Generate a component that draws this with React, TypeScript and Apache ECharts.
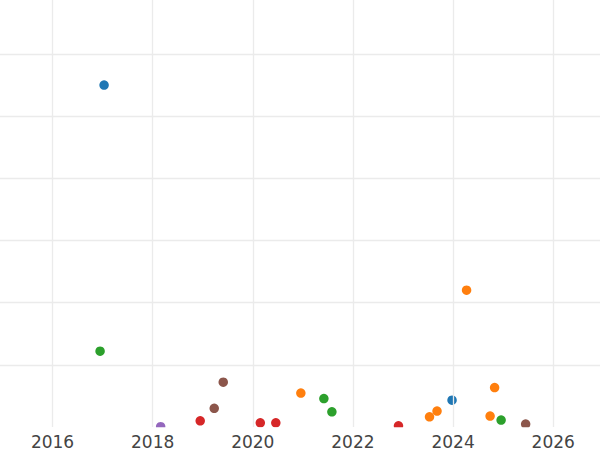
import React, { useEffect, useRef } from "react";
import * as echarts from "echarts";

const xTicks = [2016, 2018, 2020, 2022, 2024, 2026];
const yGridTicks = [1, 2, 3, 4, 5, 6];

const blueX = [2017.03, 2023.98];
const blueY = [5.5, 0.432];
const orangeX = [2020.96, 2024.27, 2023.53, 2023.68, 2024.83, 2024.74];
const orangeY = [0.545, 2.2, 0.164, 0.256, 0.635, 0.175];
const greenX = [2016.95, 2021.42, 2021.58, 2024.96];
const greenY = [1.22, 0.458, 0.244, 0.111];
const redX = [2018.95, 2020.15, 2020.46, 2022.91];
const redY = [0.1, 0.068, 0.068, 0.02];
const purpleX = [2018.16];
const purpleY = [0.005];
const brownX = [2019.41, 2019.23, 2025.45];
const brownY = [0.72, 0.3, 0.047];

const seriesDefs = [
  { name: "A", xs: blueX, ys: blueY, color: "#1f77b4" },
  { name: "B", xs: orangeX, ys: orangeY, color: "#ff7f0e" },
  { name: "C", xs: greenX, ys: greenY, color: "#2ca02c" },
  { name: "D", xs: redX, ys: redY, color: "#d62728" },
  { name: "E", xs: purpleX, ys: purpleY, color: "#9467bd" },
  { name: "F", xs: brownX, ys: brownY, color: "#8c564b" },
];

const PLOT_BOTTOM = 22.8;

export default function App() {
  const ref = useRef<HTMLDivElement>(null);
  useEffect(() => {
    if (!ref.current) return;
    const chart = echarts.init(ref.current, null, { renderer: "svg" });
    chart.setOption({
      animation: false,
      backgroundColor: "#ffffff",
      grid: { left: 0, right: 0, top: 0, bottom: PLOT_BOTTOM, containLabel: false },
      graphic: [
        {
          type: "rect",
          left: 0,
          bottom: 0,
          z: 5,
          shape: { width: 600, height: PLOT_BOTTOM },
          style: { fill: "#ffffff" },
        },
      ],
      xAxis: {
        type: "value",
        z: 10,
        min: 2014.951,
        max: 2026.935,
        axisLine: { show: false },
        axisTick: { show: false, customValues: xTicks },
        axisLabel: {
          customValues: xTicks,
          formatter: (v: number) => String(v),
          fontFamily: "DejaVu Sans",
          fontSize: 17,
          color: "#444444",
          margin: 6,
        },
        splitLine: { show: true, lineStyle: { color: "#ebebeb", width: 1.3 } },
      },
      yAxis: {
        type: "value",
        min: 0,
        max: 6.868,
        axisLine: { show: false },
        axisTick: { show: false, customValues: yGridTicks },
        axisLabel: { show: false, customValues: yGridTicks },
        splitLine: { show: true, lineStyle: { color: "#ebebeb", width: 1.3 } },
      },
      series: seriesDefs.map((s) => ({
        name: s.name,
        type: "scatter",
        symbol: "circle",
        symbolSize: 9.5,
        clip: false,
        itemStyle: { color: s.color, opacity: 1 },
        data: s.xs.map((x, i) => [x, s.ys[i]]),
      })),
    });
    return () => chart.dispose();
  }, []);
  return <div ref={ref} style={{ width: 600, height: 450, position: "absolute", left: 0, top: 0 }} />;
}
